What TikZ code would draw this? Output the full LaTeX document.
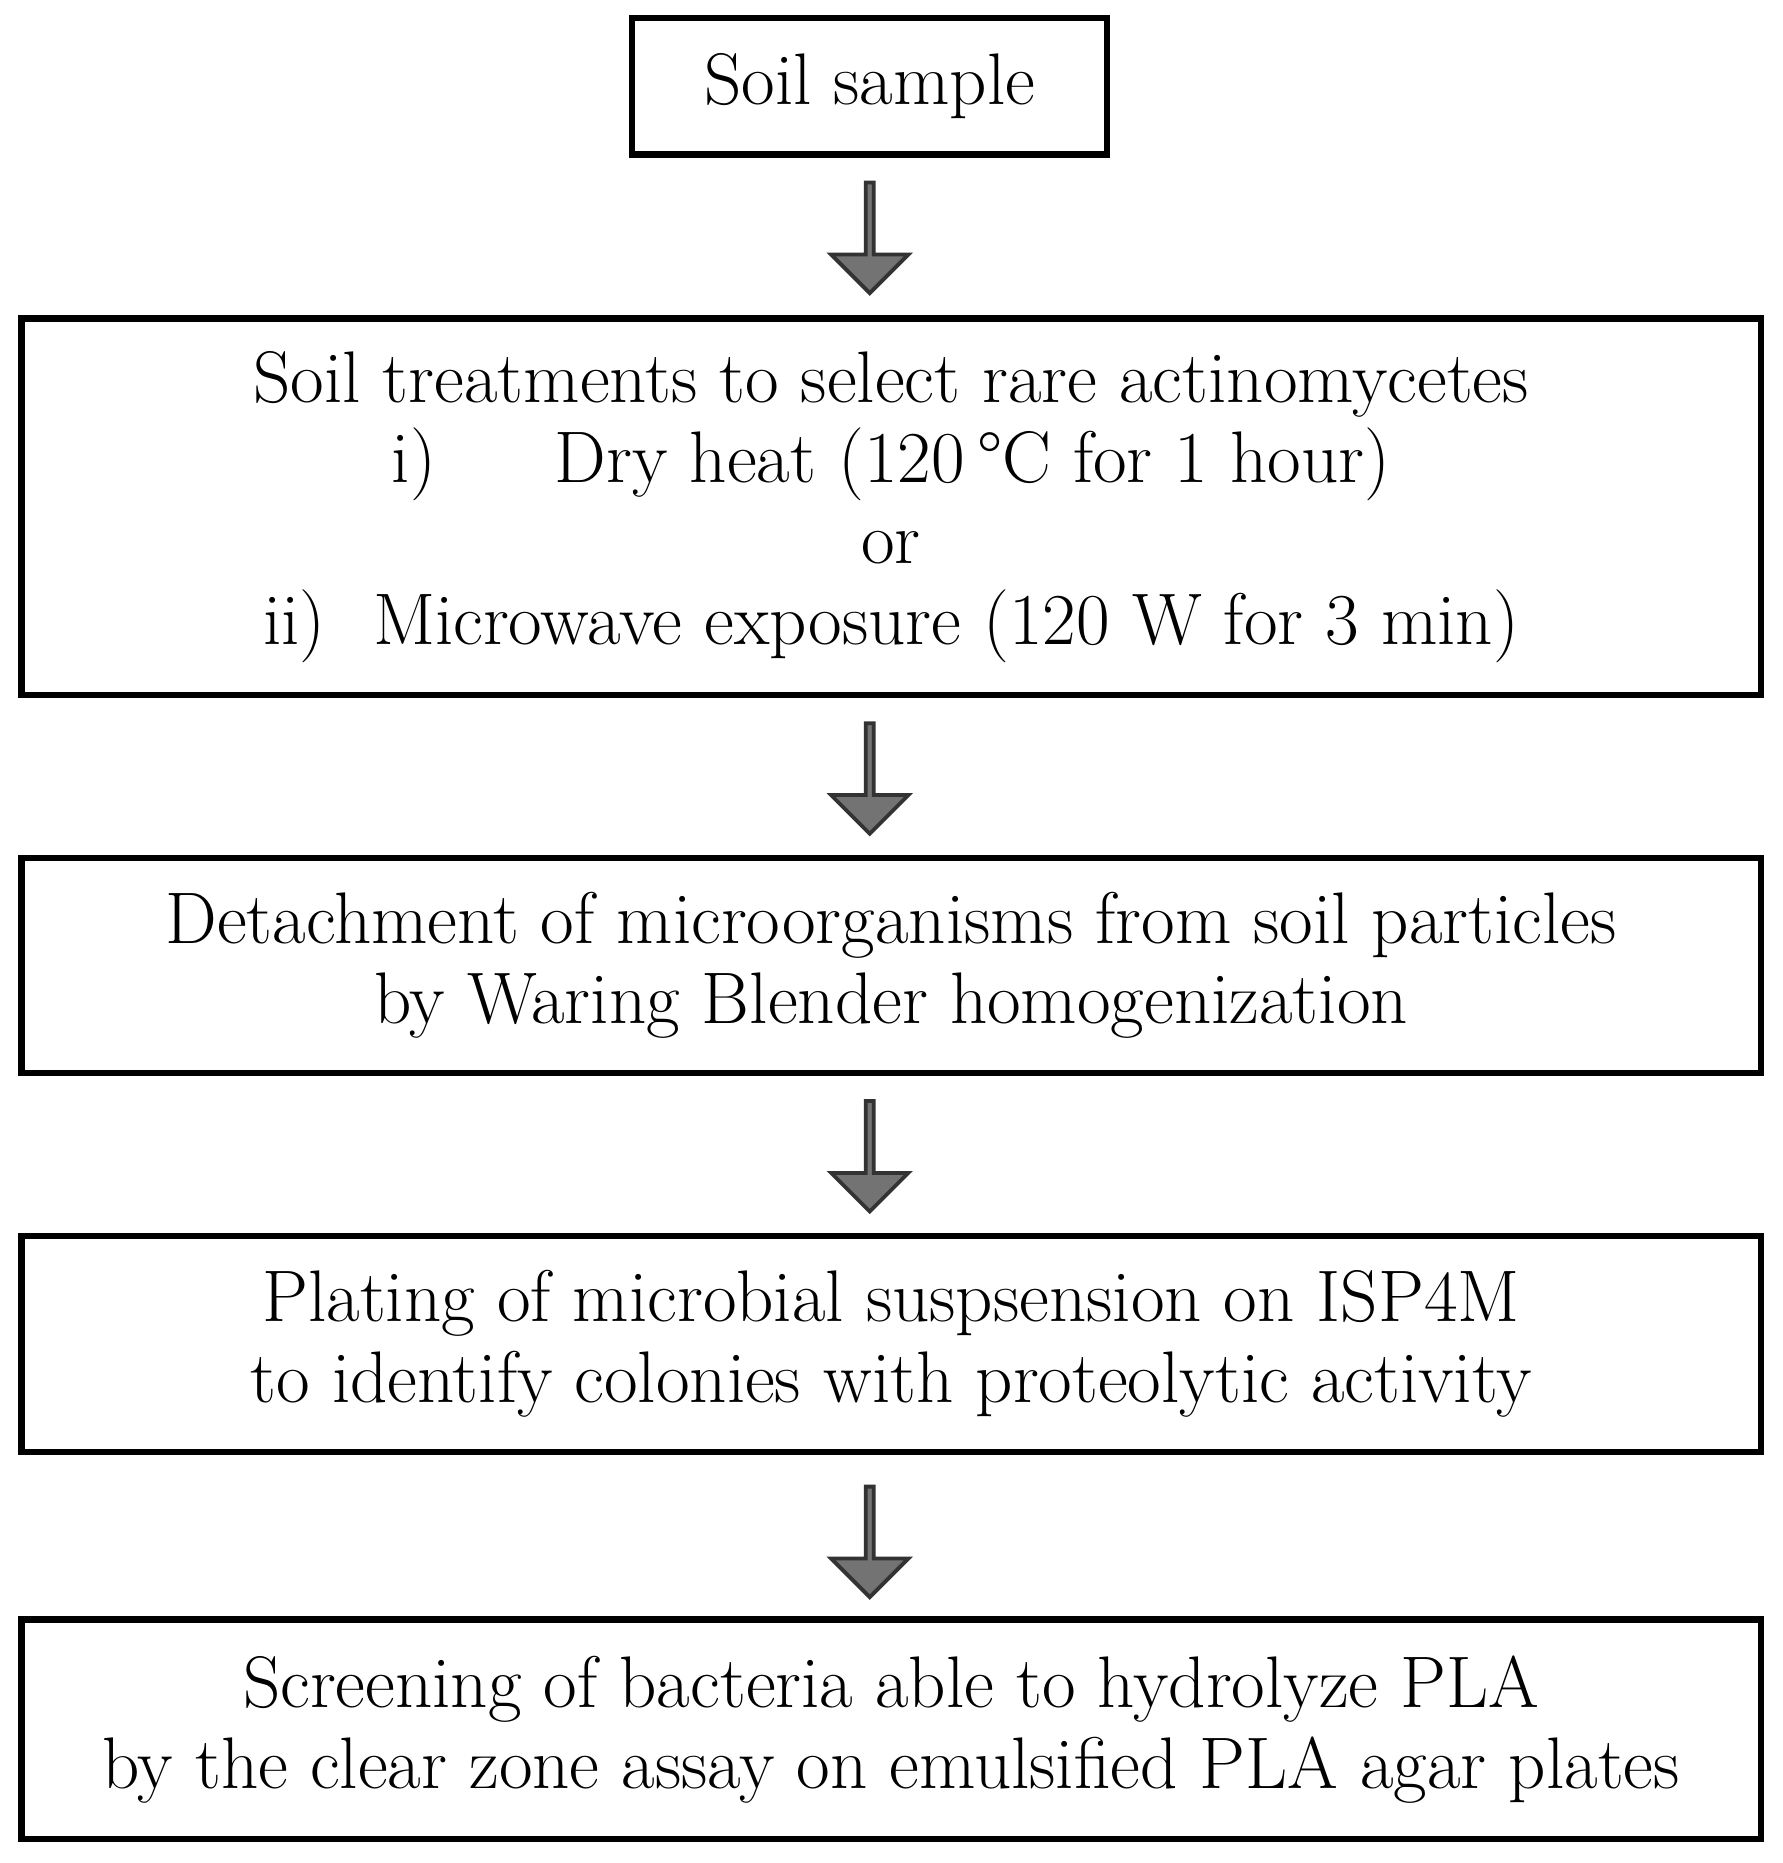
\documentclass[tikz,border=0pt]{standalone}
\usetikzlibrary{shapes.arrows,positioning}
\tikzset{
	stage/.style={draw=black,line width=1.5pt,align=center,inner sep=0pt,
		font=\fontsize{17.5}{19.3}\selectfont},
	flow/.style={single arrow,draw=black!80,fill=black!55,line width=0.9pt,rotate=-90,
		minimum height=0.93cm,minimum width=0.65cm,single arrow head extend=0.135cm,inner sep=0pt}
}
\begin{document}
\begin{tikzpicture}
	\useasboundingbox (0,0) rectangle (15,-15.68);
	\node[stage,minimum width=4.0cm,minimum height=1.15cm](soil) at (7.32,-0.725) {Soil sample};
	\node[stage,minimum width=14.64cm,minimum height=3.17cm](treat) at (7.5,-4.265) {Soil treatments to select rare actinomycetes\\
		i)\hspace{1.0cm}Dry heat (120\,\textdegree C for 1 hour)\\
		or\\
		ii)\hspace{0.4cm}Microwave exposure (120 W for 3 min)};
	\node[stage,minimum width=14.64cm,minimum height=1.81cm](detach) at (7.5,-8.125) {Detachment of microorganisms from soil particles\\
		by Waring Blender homogenization};
	\node[stage,minimum width=14.64cm,minimum height=1.82cm](plate) at (7.5,-11.31) {Plating of microbial suspsension on ISP4M\\
		to identify colonies with proteolytic activity};
	\node[stage,minimum width=14.64cm,minimum height=1.85cm](screen) at (7.5,-14.555) {Screening of bacteria able to hydrolyze PLA\\
		by the clear zone assay on emulsified PLA agar plates};
	\node[flow](a1) at (7.32,-1.985) {};
	\node[flow](a2) at (7.32,-6.535) {};
	\node[flow](a3) at (7.32,-9.715) {};
	\node[flow](a4) at (7.32,-12.96) {};
\end{tikzpicture}
\end{document}
